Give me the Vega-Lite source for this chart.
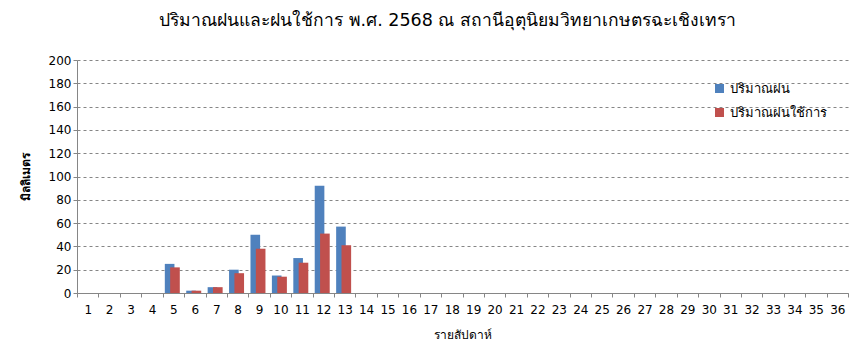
{
  "$schema": "https://vega.github.io/schema/vega-lite/v6.json",
  "width": 771,
  "height": 233,
  "autosize": {"type": "none"},
  "padding": {"left": 77, "top": 60, "right": 16, "bottom": 67},
  "background": "white",
  "config": {
    "font": "DejaVu Sans",
    "view": {"stroke": null},
    "axis": {"labelFontSize": 12, "labelColor": "black", "titleColor": "black", "domainColor": "#868686", "tickColor": "#868686"}
  },
  "title": {
    "text": "ปริมาณฝนและฝนใช้การ พ.ศ. 2568 ณ สถานีอุตุนิยมวิทยาเกษตรฉะเชิงเทรา",
    "fontSize": 17.5,
    "fontWeight": "normal",
    "color": "black",
    "anchor": "middle",
    "dx": -15,
    "offset": 25
  },
  "data": {
    "values": [
      {"week": 5, "series": "ปริมาณฝน", "mm": 25},
      {"week": 5, "series": "ปริมาณฝนใช้การ", "mm": 22},
      {"week": 6, "series": "ปริมาณฝน", "mm": 2},
      {"week": 6, "series": "ปริมาณฝนใช้การ", "mm": 2},
      {"week": 7, "series": "ปริมาณฝน", "mm": 5},
      {"week": 7, "series": "ปริมาณฝนใช้การ", "mm": 5},
      {"week": 8, "series": "ปริมาณฝน", "mm": 20},
      {"week": 8, "series": "ปริมาณฝนใช้การ", "mm": 17},
      {"week": 9, "series": "ปริมาณฝน", "mm": 50},
      {"week": 9, "series": "ปริมาณฝนใช้การ", "mm": 38},
      {"week": 10, "series": "ปริมาณฝน", "mm": 15},
      {"week": 10, "series": "ปริมาณฝนใช้การ", "mm": 14},
      {"week": 11, "series": "ปริมาณฝน", "mm": 30},
      {"week": 11, "series": "ปริมาณฝนใช้การ", "mm": 26},
      {"week": 12, "series": "ปริมาณฝน", "mm": 92},
      {"week": 12, "series": "ปริมาณฝนใช้การ", "mm": 51},
      {"week": 13, "series": "ปริมาณฝน", "mm": 57},
      {"week": 13, "series": "ปริมาณฝนใช้การ", "mm": 41}
    ]
  },
  "mark": {"type": "bar", "width": {"band": 1.8}},
  "encoding": {
    "x": {
      "field": "week",
      "type": "ordinal",
      "scale": {"domain": [1,2,3,4,5,6,7,8,9,10,11,12,13,14,15,16,17,18,19,20,21,22,23,24,25,26,27,28,29,30,31,32,33,34,35,36], "paddingInner": 0, "paddingOuter": 0},
      "axis": {"labelAngle": 0, "tickBand": "extent", "tickSize": 4, "labelPadding": 7, "title": "รายสัปดาห์", "titleFontSize": 12, "titleFontWeight": "normal", "titlePadding": 14, "labelFontSize": 12}
    },
    "xOffset": {
      "field": "series",
      "type": "nominal",
      "sort": ["ปริมาณฝน", "ปริมาณฝนใช้การ"],
      "scale": {"paddingInner": 0, "paddingOuter": 1.142, "align": 1}
    },
    "y": {
      "field": "mm",
      "type": "quantitative",
      "scale": {"domain": [0, 200], "nice": false},
      "axis": {"values": [0,20,40,60,80,100,120,140,160,180,200], "grid": true, "gridDash": [3, 3], "gridColor": "#868686", "tickSize": 4, "labelPadding": 2, "title": "มิลลิเมตร", "titleFontSize": 12, "titleFontWeight": "bold", "titlePadding": 16, "labelFontSize": 12}
    },
    "color": {
      "field": "series",
      "type": "nominal",
      "scale": {"domain": ["ปริมาณฝน", "ปริมาณฝนใช้การ"], "range": ["#4F81BD", "#C0504D"]},
      "legend": {"title": null, "orient": "none", "legendX": 636, "legendY": 22, "symbolType": "square", "symbolSize": 81, "symbolStrokeWidth": 0, "labelFontSize": 13, "rowPadding": 10, "labelColor": "black"}
    }
  }
}
